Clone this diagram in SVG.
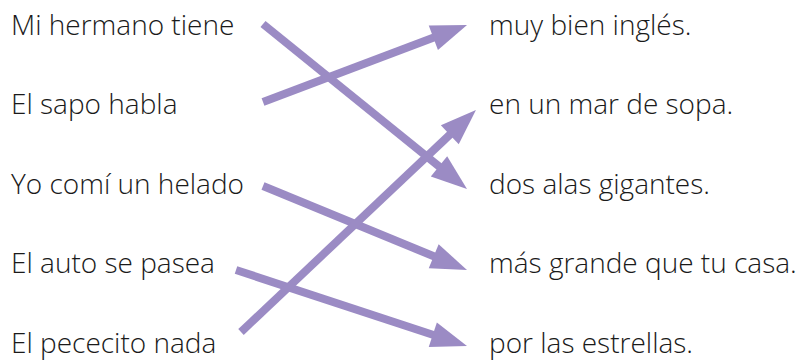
<svg xmlns="http://www.w3.org/2000/svg" width="800" height="360" viewBox="0 0 800 360">
<defs>
<style>
.t{font-family:"Open Sans","Noto Sans",sans-serif;font-size:28px;font-weight:300;fill:#1a1a1a}
.c{stroke:#9b8bc4;stroke-width:8;fill:none;marker-end:url(#ah)}
</style>
<marker id="ah" markerUnits="userSpaceOnUse" markerWidth="40" markerHeight="30" viewBox="-5 -15 40 30" refX="0" refY="0" orient="auto">
<path d="M-4,-13 L32,0 L-4,13 Z" fill="#9b8bc4"/>
</marker>
</defs>
<rect width="800" height="360" fill="#ffffff"/>
<g id="left">
<g id="l1"><text class="t" x="11" y="35">Mi hermano tiene</text></g>
<g id="l2"><text class="t" x="11" y="114">El sapo habla</text></g>
<g id="l3"><text class="t" x="11" y="194">Yo comí un helado</text></g>
<g id="l4"><text class="t" x="11" y="273">El auto se pasea</text></g>
<g id="l5"><text class="t" x="11" y="353">El pececito nada</text></g>
</g>
<g id="right">
<g id="r1"><text class="t" x="489" y="35">muy bien inglés.</text></g>
<g id="r2"><text class="t" x="489" y="114">en un mar de sopa.</text></g>
<g id="r3"><text class="t" x="489" y="194">dos alas gigantes.</text></g>
<g id="r4"><text class="t" x="489" y="273">más grande que tu casa.</text></g>
<g id="r5"><text class="t" x="489" y="353">por las estrellas.</text></g>
</g>
<g id="connectors">
<line class="c" x1="263" y1="24" x2="442.1" y2="168.9"/>
<line class="c" x1="263" y1="102" x2="437.1" y2="36.3"/>
<line class="c" x1="263" y1="186" x2="437.4" y2="257.8"/>
<line class="c" x1="236" y1="270" x2="436.6" y2="336"/>
<line class="c" x1="241" y1="332" x2="452.7" y2="132"/>
</g>
</svg>
